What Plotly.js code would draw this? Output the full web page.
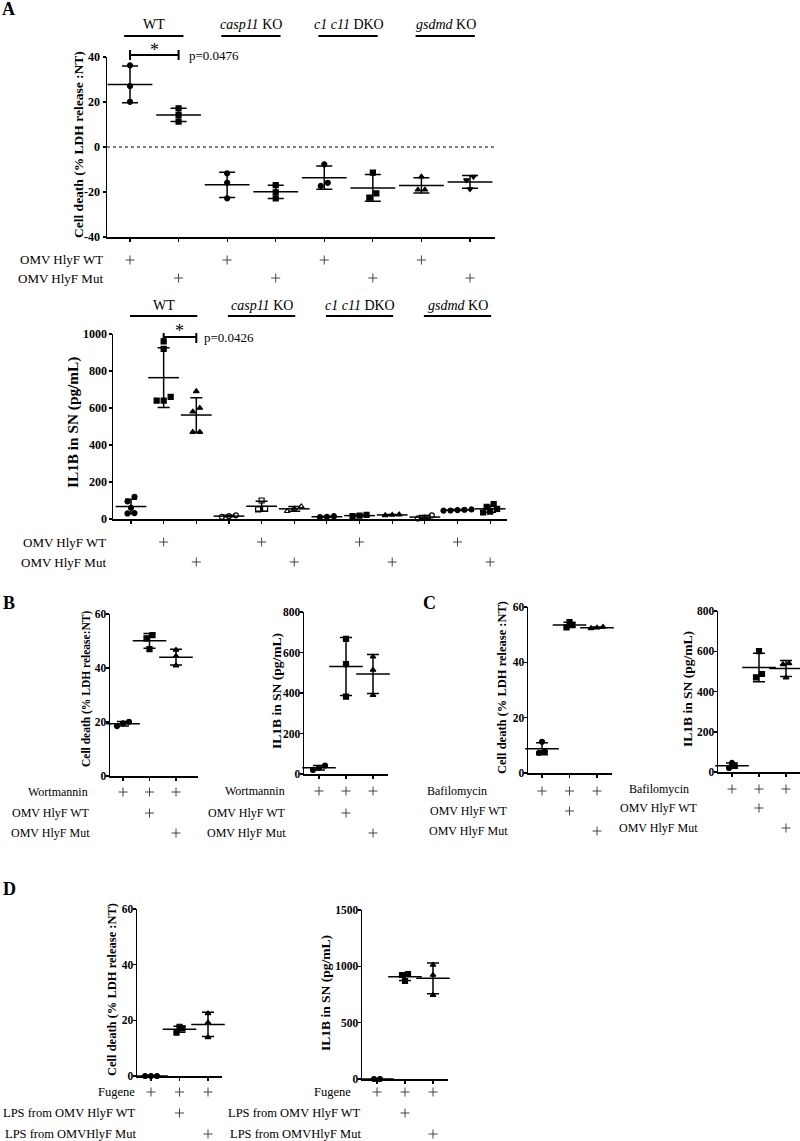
<!DOCTYPE html>
<html><head><meta charset="utf-8">
<script src="https://cdn.plot.ly/plotly-3.0.1.min.js"></script>
<style>html,body{margin:0;padding:0;background:#fff}#chart{width:800px;height:1141px}</style>
</head><body><div id="chart"></div>
<script>
// ================= DATA =================
// Panel A (top): cell death, 8 conditions
const A1_cellDeath = [[36.3,27.1,20.1],[17.2,14.2,11.3],[-11.7,-15.9,-22.8],[-16.9,-20.1,-22.8],
                      [-7.7,-15.9,-17.3],[-11.4,-20.6,-22.5],[-13.2,-19.0,-19.0],[-13.2,-14.7,-18.7]];
const A1_symbols = ['circle','square','circle','square','circle','square','triangle-up','triangle-down'];
const A1_omvWT  = [1,0,1,0,1,0,1,0];
const A1_omvMut = [0,1,0,1,0,1,0,1];
const A1_groupCols = [[1,2],[3,4],[5,6],[7,8]];
const A_groupLabels = ['WT','<i>casp11</i> KO','<i>c1 c11</i> DKO','<i>gsdmd</i> KO'];
const A1_pvalue = 'p=0.0476';
// Panel A (bottom): IL1B, 12 conditions
const A2_il1b = [[120,95,60,32,30],[960,920,660,640,640],[690,600,580,470,470],
                 [20,15,12],[100,55,52],[68,55,42],
                 [15,12,10],[22,18,15],[24,22,20],
                 [20,8,3],[52,50,48,46,45],[80,65,55,40,35]];
const A2_symbols = ['circle','square','triangle-up','circle-open','square-open','triangle-up-open',
                    'circle','square','triangle-up','circle-open','circle','square'];
const A2_omvWT  = [0,1,0,0,1,0,0,1,0,0,1,0];
const A2_omvMut = [0,0,1,0,0,1,0,0,1,0,0,1];
const A2_groupCols = [[1,3],[4,6],[7,9],[10,12]];
const A2_pvalue = 'p=0.0426';
// Panel B: Wortmannin
const B1_cellDeath = [[20.1,19.5,18.5],[52.2,51.0,47.0],[46.7,44.4,40.9]];
const B2_il1b = [[42,30,20],[667,543,382],[579,514,389]];
const B_wortmannin = [1,1,1], B_omvWT = [0,1,0], B_omvMut = [0,0,1];
// Panel C: Bafilomycin
const C1_cellDeath = [[11.3,7.7,7.3],[54.5,53.5,52.6],[52.8,52.5,52.3]];
const C2_il1b = [[45,30,20],[601,487,470],[540,535,469]];
const C_bafilomycin = [1,1,1], C_omvWT = [0,1,0], C_omvMut = [0,0,1];
// Panel D: Fugene + LPS
const D1_cellDeath = [[0,0,0],[17.7,17.1,15.6],[22.5,19.2,13.9]];
const D2_il1b = [[0,0],[932,923,870],[1012,923,745]];
const D_fugene = [1,1,1], D_lpsWT = [0,1,0], D_lpsMut = [0,0,1];
const PANEL_SYMBOLS3 = ['circle','square','triangle-up'];

// ================= HELPERS =================
const W = 800, H = 1141;
const SERIF = 'Liberation Serif, Times New Roman, serif';
const px = x => x / W, py = y => 1 - y / H;
const mean = a => a.reduce((s,v)=>s+v,0)/a.length;
const sd = a => { const m = mean(a); return a.length<2?0:Math.sqrt(a.reduce((s,v)=>s+(v-m)*(v-m),0)/(a.length-1)); };

const traces = [], shapes = [], annotations = [];
const layout = {width:W, height:H, margin:{l:0,r:0,t:0,b:0}, paper_bgcolor:'white', plot_bgcolor:'white',
  showlegend:false, font:{family:SERIF, color:'black'}, shapes, annotations};

function panel(n, cfg) {
  const xa = n===1?'xaxis':'xaxis'+n, ya = n===1?'yaxis':'yaxis'+n;
  const xr = n===1?'x':'x'+n, yr = n===1?'y':'y'+n;
  const cols = cfg.data.map((_,i)=>i+1);
  const s = cfg.spacing, c1 = cfg.c1;
  const xRange = [1 - (c1 - cfg.xPx[0])/s, 1 + (cfg.xPx[1] - c1)/s];
  const pxPerUnit = (cfg.yPx[1]-cfg.yPx[0])/(cfg.yRange[1]-cfg.yRange[0]);
  layout[xa] = {domain:[px(cfg.xPx[0]), px(cfg.xPx[1])], range:xRange, anchor:yr,
    showline:true, linecolor:'black', linewidth:1.5, ticks:'outside', ticklen:3, tickwidth:1.2, tickcolor:'black',
    tickvals:cols, showticklabels:false, showgrid:false, zeroline:false, fixedrange:true};
  layout[ya] = {domain:[py(cfg.yPx[1]), py(cfg.yPx[0])], range:cfg.yRange, anchor:xr,
    showline:true, linecolor:'black', linewidth:1.5, ticks:'outside', ticklen:3, tickwidth:1.5, tickcolor:'black',
    tickvals:cfg.yTicks, ticktext:cfg.yTicks.map(String), ticklabelstandoff:cfg.standoff||0,
    tickfont:{family:SERIF, size:cfg.tickSize||12, color:'black', weight:'bold'},
    showgrid:false, zeroline:false, fixedrange:true};
  // individual points, with horizontal spreading of near-equal values
  const xs=[], ys=[], sy=[];
  cfg.data.forEach((vals, i) => {
    const order = vals.map((v,k)=>k).sort((a,b)=>vals[a]-vals[b]);
    const clusters = [];
    order.forEach(k => {
      const last = clusters[clusters.length-1];
      if (last && Math.abs(vals[k]-vals[last[0]])*pxPerUnit < 5) last.push(k); else clusters.push([k]);
    });
    clusters.forEach(cl => cl.forEach((k,j) => {
      xs.push(i+1 + (j-(cl.length-1)/2)*(cfg.dotGap/s)); ys.push(vals[k]); sy.push(cfg.symbols[i]);
    }));
  });
  traces.push({type:'scatter', mode:'markers', x:xs, y:ys, xaxis:xr, yaxis:yr, cliponaxis:false, hoverinfo:'skip',
    marker:{symbol:sy, size:cfg.msize||5, color:'black', line:{color:'black', width:1.2}}});
  // mean line + SD error bars
  traces.push({type:'scatter', mode:'markers', x:cols, y:cfg.data.map(mean), xaxis:xr, yaxis:yr, cliponaxis:false, hoverinfo:'skip',
    marker:{symbol:'line-ew', size:cfg.meanW, color:'black', line:{color:'black', width:1.5}},
    error_y:{type:'data', array:cfg.data.map(sd), visible:true, color:'black', thickness:1.5, width:cfg.capW}});
  // y title
  annotations.push({xref:'paper', yref:'paper', x:px(cfg.titleX), y:py(cfg.titleY), text:cfg.title, showarrow:false,
    textangle:-90, xanchor:'center', yanchor:'middle', font:{family:SERIF, size:cfg.titleSize, color:'black', weight:'bold'}});
  // treatment rows: label text + thin "+" marks placed on the panel's x axis
  const arm = 4.5;
  cfg.rows.forEach(r => {
    annotations.push({xref:'paper', yref:'paper', x:px(r.labelRight), y:py(r.y), text:r.label, showarrow:false,
      xanchor:'right', yanchor:'middle', font:{family:SERIF, size:cfg.rowFont||12.5, color:'black'}});
    r.flags.forEach((f,i) => {
      if (!f) return;
      const c = i+1;
      shapes.push({type:'line', xref:xr, yref:'paper', x0:c-arm/s, x1:c+arm/s, y0:py(r.y), y1:py(r.y), line:{color:'#444', width:1}});
      shapes.push({type:'line', xref:xr, yref:'paper', x0:c, x1:c, y0:py(r.y-arm), y1:py(r.y+arm), line:{color:'#444', width:1}});
    });
  });
  return {xr, yr, xRange};
}

function groupHeaders(ax, groupCols, labels, labelY, lineY, padL, padR) {
  groupCols.forEach((g,i) => {
    annotations.push({xref:ax.xr, yref:'paper', x:(g[0]+g[1])/2, y:py(labelY), text:labels[i], showarrow:false,
      xanchor:'center', yanchor:'middle', font:{family:SERIF, size:14, color:'black'}});
    shapes.push({type:'line', xref:ax.xr, yref:'paper', x0:g[0]-padL, x1:g[1]+padR, y0:py(lineY), y1:py(lineY),
      line:{color:'black', width:2}});
  });
}

function bracket(ax, a, b, yLine, capTop, capBot, starY, pText, pX) {
  shapes.push({type:'line', xref:ax.xr, yref:'paper', x0:a, x1:b, y0:py(yLine), y1:py(yLine), line:{color:'black', width:2}});
  [a,b].forEach(x => shapes.push({type:'line', xref:ax.xr, yref:'paper', x0:x, x1:x, y0:py(capTop), y1:py(capBot), line:{color:'black', width:2}}));
  annotations.push({xref:ax.xr, yref:'paper', x:(a+b)/2, y:py(starY), text:'*', showarrow:false, xanchor:'center', yanchor:'middle',
    font:{family:SERIF, size:18, color:'black'}});
  annotations.push({xref:'paper', yref:'paper', x:px(pX), y:py(yLine), text:pText, showarrow:false, xanchor:'left', yanchor:'middle',
    font:{family:SERIF, size:13, color:'black'}});
}

function letter(t, x, y) {
  annotations.push({xref:'paper', yref:'paper', x:px(x), y:py(y), text:t, showarrow:false, xanchor:'center', yanchor:'middle',
    font:{family:SERIF, size:18, color:'black', weight:'bold'}});
}

// ================= PANELS =================
const CD_TITLE_A = 'Cell death (% LDH release :NT)';
const CD_TITLE_B = 'Cell death (% LDH release:NT)';
const IL_TITLE = 'IL1B in SN (pg/mL)';

const a1 = panel(1, {data:A1_cellDeath, symbols:A1_symbols, xPx:[107,495], yPx:[57,237], yRange:[-40,40], yTicks:[-40,-20,0,20,40],
  c1:130, spacing:48.57, meanW:32, capW:8, dotGap:7, title:CD_TITLE_A, titleSize:13.5, titleX:78, titleY:145, rowFont:13,
  rows:[{label:'OMV HlyF WT', labelRight:105, y:260, flags:A1_omvWT},{label:'OMV HlyF Mut', labelRight:105, y:278, flags:A1_omvMut}]});
shapes.push({type:'line', xref:a1.xr, yref:a1.yr, x0:a1.xRange[0], x1:a1.xRange[1], y0:0, y1:0, line:{color:'black', width:1, dash:'dot'}});
groupHeaders(a1, A1_groupCols, A_groupLabels, 25, 36, 0.12, 0.1);
bracket(a1, 1, 2, 55, 50, 60, 50, A1_pvalue, 187);

const a2 = panel(2, {data:A2_il1b, symbols:A2_symbols, xPx:[113,507], yPx:[334,519], yRange:[0,1000], yTicks:[0,200,400,600,800,1000],
  c1:131, spacing:32.65, meanW:22, capW:6, dotGap:7, msize:5, title:IL_TITLE, titleSize:15.3, titleX:73, titleY:423, rowFont:13, standoff:-1,
  rows:[{label:'OMV HlyF WT', labelRight:108, y:542, flags:A2_omvWT},{label:'OMV HlyF Mut', labelRight:108, y:562, flags:A2_omvMut}]});
groupHeaders(a2, A2_groupCols, A_groupLabels, 305, 316, 0.03, 0.03);
bracket(a2, 2, 3, 337, 333, 343, 331, A2_pvalue, 202);

panel(3, {data:B1_cellDeath, symbols:PANEL_SYMBOLS3, xPx:[110,198], yPx:[614,776], yRange:[0,60], yTicks:[0,20,40,60],
  c1:123, spacing:26.5, meanW:24, capW:6, dotGap:6, title:CD_TITLE_B, titleSize:11.5, titleX:86, titleY:689, rowFont:12, standoff:-3, tickSize:11.5,
  rows:[{label:'Wortmannin', labelRight:90, y:792, flags:B_wortmannin},{label:'OMV HlyF WT', labelRight:92, y:813, flags:B_omvWT},
        {label:'OMV HlyF Mut', labelRight:92, y:833, flags:B_omvMut}]});
panel(4, {data:B2_il1b, symbols:PANEL_SYMBOLS3, xPx:[304,388], yPx:[612,774], yRange:[0,800], yTicks:[0,200,400,600,800],
  c1:319, spacing:27, meanW:24, capW:6, dotGap:6, title:IL_TITLE, titleSize:13.5, titleX:276, titleY:691, rowFont:12, standoff:-3, tickSize:11.5,
  rows:[{label:'Wortmannin', labelRight:287, y:791, flags:B_wortmannin},{label:'OMV HlyF WT', labelRight:288, y:813, flags:B_omvWT},
        {label:'OMV HlyF Mut', labelRight:288, y:833, flags:B_omvMut}]});
panel(5, {data:C1_cellDeath, symbols:PANEL_SYMBOLS3, xPx:[528,612], yPx:[607,773], yRange:[0,60], yTicks:[0,20,40,60],
  c1:542, spacing:27.5, meanW:24, capW:6, dotGap:6, title:CD_TITLE_A, titleSize:12.5, titleX:502, titleY:687, rowFont:12, standoff:-3, tickSize:11.5,
  rows:[{label:'Bafilomycin', labelRight:489, y:791, flags:C_bafilomycin},{label:'OMV HlyF WT', labelRight:510, y:811, flags:C_omvWT},
        {label:'OMV HlyF Mut', labelRight:510, y:831, flags:C_omvMut}]});
panel(6, {data:C2_il1b, symbols:PANEL_SYMBOLS3, xPx:[718,800], yPx:[611,772], yRange:[0,800], yTicks:[0,200,400,600,800],
  c1:732, spacing:27, meanW:24, capW:6, dotGap:6, title:IL_TITLE, titleSize:13.5, titleX:687, titleY:689, rowFont:12, standoff:-3, tickSize:11.5,
  rows:[{label:'Bafilomycin', labelRight:691, y:789, flags:C_bafilomycin},{label:'OMV HlyF WT', labelRight:700, y:808, flags:C_omvWT},
        {label:'OMV HlyF Mut', labelRight:700, y:828, flags:C_omvMut}]});
panel(7, {data:D1_cellDeath, symbols:PANEL_SYMBOLS3, xPx:[137,222], yPx:[909,1076], yRange:[0,60], yTicks:[0,20,40,60],
  c1:151, spacing:28.5, meanW:24, capW:6, dotGap:6, title:CD_TITLE_A, titleSize:12.5, titleX:112, titleY:990, rowFont:12.5, standoff:-3, tickSize:11.5,
  rows:[{label:'Fugene', labelRight:137, y:1092, flags:D_fugene},{label:'LPS from OMV HlyF WT', labelRight:138, y:1113, flags:D_lpsWT},
        {label:'LPS from OMVHlyF Mut', labelRight:138, y:1134, flags:D_lpsMut}]});
panel(8, {data:D2_il1b, symbols:PANEL_SYMBOLS3, xPx:[362,448], yPx:[910,1079], yRange:[0,1500], yTicks:[0,500,1000,1500],
  c1:377, spacing:28, meanW:24, capW:6, dotGap:6, title:IL_TITLE, titleSize:13.5, titleX:325, titleY:993, rowFont:12.5, standoff:-3, tickSize:11.5,
  rows:[{label:'Fugene', labelRight:353, y:1092, flags:D_fugene},{label:'LPS from OMV HlyF WT', labelRight:363, y:1113, flags:D_lpsWT},
        {label:'LPS from OMVHlyF Mut', labelRight:363, y:1134, flags:D_lpsMut}]});

letter('A', 8, 9); letter('B', 9, 603); letter('C', 429, 603); letter('D', 9, 889);

Plotly.newPlot('chart', traces, layout, {staticPlot:true, displayModeBar:false});
</script></body></html>
